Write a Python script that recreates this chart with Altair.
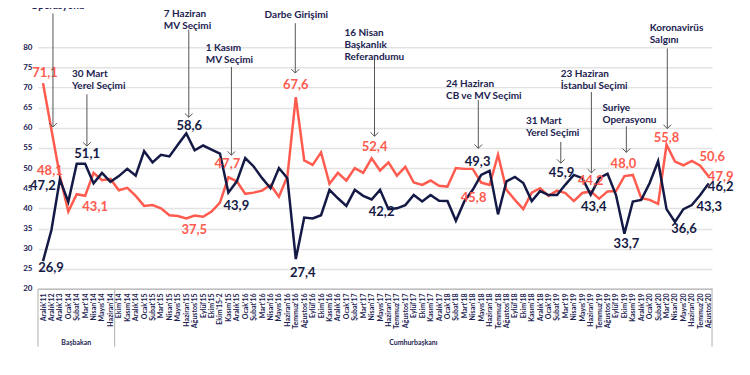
import json
import altair as alt
import pandas as pd

NAVY = "#141a45"
RED = "#ff5b4f"
TXT = "#1b2250"
FONT = "Lato"

months = ["Aralık'11", "Aralık'12", "Aralık'13", "Ocak'14", "Şubat'14", "Mart'14", "Nisan'14",
          "Mayıs'14", "Haziran'14", "Ekim'14", "Kasım'14", "Aralık'14", "Ocak'15", "Şubat'15",
          "Mart'15", "Nisan'15", "Mayıs'15", "Haziran'15", "Ağustos'15", "Eylül'15", "Ekim'15",
          "Ekim'15-2", "Kasım'15", "Aralık'15", "Ocak'16", "Şubat'16", "Mart'16", "Nisan'16",
          "Mayıs'16", "Haziran'16", "Temmuz'16", "Ağustos'16", "Eylül'16", "Ekim'16", "Kasım'16",
          "Aralık'16", "Ocak'17", "Şubat'17", "Mart'17", "Nisan'17", "Mayıs'17", "Haziran'17",
          "Temmuz'17", "Ağustos'17", "Eylül'17", "Ekim'17", "Kasım'17", "Aralık'17", "Ocak'18",
          "Şubat'18", "Mart'18", "Nisan'18", "Mayıs'18", "Haziran'18", "Temmuz'18", "Ağustos'18",
          "Eylül'18", "Ekim'18", "Kasım'18", "Aralık'18", "Ocak'19", "Şubat'19", "Mart'19",
          "Nisan'19", "Mayıs'19", "Haziran'19", "Temmuz'19", "Ağustos'19", "Eylül'19", "Ekim'19",
          "Kasım'19", "Aralık'19", "Ocak'20", "Şubat'20", "Mart'20", "Nisan'20", "Mayıs'20",
          "Haziran'20", "Temmuz'20", "Ağustos'20"]

navy_vals = [26.9, 34.6, 47.2, 41.6, 51.1, 51.1, 46.2, 48.8, 46.6, 48.0,
             49.8, 48.1, 54.2, 51.4, 53.3, 52.9, 55.8, 58.6, 54.4, 55.6,
             54.6, 53.6, 43.9, 46.7, 52.5, 50.4, 47.5, 45.0, 50.0, 47.5,
             27.4, 37.7, 37.5, 38.3, 44.6, 42.5, 40.6, 44.6, 43.1, 42.2,
             44.6, 39.8, 40.0, 40.8, 43.3, 41.7, 43.3, 41.9, 41.8, 36.9,
             41.7, 44.6, 48.3, 49.3, 38.5, 46.7, 47.8, 46.3, 41.8, 44.3,
             43.3, 43.3, 45.9, 48.3, 47.5, 43.4, 47.5, 48.6, 43.3, 33.7,
             41.7, 42.1, 46.3, 51.7, 39.8, 36.6, 39.8, 40.8, 43.3, 46.2]

red_vals = [71.1, 59.5, 48.1, 39.2, 43.5, 43.1, 48.8, 47.0, 47.3, 44.5,
            45.1, 43.1, 40.6, 40.8, 40.0, 38.3, 38.1, 37.5, 38.2, 37.9,
            39.2, 41.4, 47.7, 46.7, 43.6, 43.9, 44.4, 45.8, 42.9, 47.9,
            67.6, 51.9, 50.8, 53.9, 46.1, 48.8, 46.9, 50.0, 48.8, 52.4,
            49.4, 51.4, 48.1, 50.3, 46.4, 45.8, 46.9, 45.6, 45.4, 50.0,
            49.8, 49.8, 46.4, 45.8, 53.3, 44.6, 42.1, 39.8, 43.9, 45.0,
            43.1, 44.4, 43.8, 41.8, 43.8, 44.2, 42.4, 44.2, 44.3, 48.0,
            48.3, 42.5, 42.1, 41.1, 55.8, 51.6, 50.7, 51.8, 50.6, 47.9]

# value labels: (index, dx, dy)
navy_labels = [(0, 8, 7), (2, -17, 7), (5, 2, -10), (17, 3, -7), (22, 8, 13), (30, 7, 14),
               (39, 10, 13), (53, -12, -9), (62, -4, -12), (65, 3, 12), (69, 2, 10),
               (75, 9, 7), (78, 9, 12), (79, 12, 4)]
red_labels = [(0, 2, -10), (2, -10, -5), (5, 10, 11), (17, 8, 12), (22, -1, -13), (30, 0, -12),
              (39, 3, -11), (53, -16, 13), (65, 0, -10), (69, -1, -12), (74, 0, -7),
              (78, 12, -9), (79, 12, 0)]

# event annotations: text, text x (index), text top (value), arrow x, arrow top, arrow bottom
event_text = ["Operasyonu", "30 Mart\nYerel Seçimi", "7 Haziran\nMV Seçimi", "1 Kasım\nMV Seçimi",
              "15 Temmuz\nDarbe Girişimi", "16 Nisan\nBaşkanlık\nReferandumu",
              "24 Haziran\nCB  ve MV Seçimi", "31 Mart\nYerel Seçimi",
              "23 Haziran\nİstanbul Seçimi", "Suriye\nOperasyonu", "Koronavirüs\nSalgını"]
event_tx = [-1.5, 3.44, 14.34, 19.31, 26.3, 35.78, 47.83, 57.31, 61.45, 66.39, 72.0]
event_ty = [91.4, 74.55, 89.4, 81.07, 92.2, 84.9, 72.2, 62.9, 74.7, 66.2, 86.0]
arrow_x = [1.18, 5.21, 17.3, 22.36, 29.94, 39.34, 51.66, 61.45, 65.08, 69.23, 74.09]
arrow_top = [88.4, 68.35, 84.4, 75.1, 86.0, 77.2, 66.9, 56.5, 68.9, 60.4, 79.7]
arrow_bot = [60.2, 55.45, 62.6, 53.2, 73.6, 57.9, 54.9, 51.2, 48.8, 53.9, 59.8]

groups = ["Başbakan", "Cumhurbaşkanı"]
group_edges = [-0.6, 8.5, 79.4]

x_dom = [-0.6, 79.4]
y_dom = [20, 89.7]

df = pd.DataFrame({"i": list(range(len(months))), "navy": navy_vals, "red": red_vals})

label_expr = json.dumps(months, ensure_ascii=False) + "[datum.value]"
xscale = alt.Scale(domain=x_dom, nice=False, zero=False)
yscale = alt.Scale(domain=y_dom, nice=False, zero=False)

x_axis = alt.Axis(values=list(range(len(months))), labelExpr=label_expr, labelAngle=-90,
                  labelFontSize=7, labelFont=FONT, labelFontWeight="bold", labelColor=TXT,
                  ticks=False, grid=False, domainColor="#bdbdbd", domainWidth=1.5,
                  labelPadding=4, labelOverlap=False, labelFlush=False, labelBound=False,
                  title=None)
y_axis = alt.Axis(values=list(range(20, 81, 5)), labelFontSize=8, labelFont=FONT,
                  labelFontWeight="bold", labelColor=TXT, ticks=False, domain=False,
                  gridColor="#e3e3e3", gridWidth=1.5, labelPadding=6, labelOverlap=False,
                  title=None)


def X(field):
    return alt.X(field, scale=xscale, axis=x_axis)


def Y(field):
    return alt.Y(field, scale=yscale, axis=y_axis)


base = alt.Chart(df)
red_line = base.mark_line(color=RED, strokeWidth=2.5).encode(x=X("i:Q"), y=Y("red:Q"))
navy_line = base.mark_line(color=NAVY, strokeWidth=2.5).encode(x=X("i:Q"), y=Y("navy:Q"))

layers = [red_line, navy_line]


def fmt(v):
    return f"{v:.1f}".replace(".", ",")


for vals, color, labs in [(navy_vals, NAVY, navy_labels), (red_vals, RED, red_labels)]:
    for (i, dx, dy) in labs:
        d = pd.DataFrame({"i": [i], "v": [vals[i]], "t": [fmt(vals[i])]})
        layers.append(alt.Chart(d).mark_text(
            color=color, font=FONT, fontSize=13, fontWeight="bold", dx=dx, dy=dy,
            align="center", baseline="middle").encode(x=X("i:Q"), y=Y("v:Q"), text="t:N"))

ev = pd.DataFrame({"t": event_text, "tx": event_tx, "ty": event_ty,
                   "ax": arrow_x, "a1": arrow_top, "a2": arrow_bot})
ev_base = alt.Chart(ev)
layers.append(ev_base.mark_rule(color="#555555", strokeWidth=1).encode(
    x=X("ax:Q"), y=Y("a1:Q"), y2="a2:Q"))
layers.append(ev_base.mark_point(shape="M-1,-1L0,0L1,-1", size=60, filled=False,
                                 color="#555555", strokeWidth=1, opacity=1).encode(
    x=X("ax:Q"), y=Y("a2:Q")))
layers.append(ev_base.mark_text(align="left", baseline="top", lineBreak="\n", lineHeight=12,
                                font=FONT, fontSize=10, fontWeight="bold", color=TXT).encode(
    x=X("tx:Q"), y=Y("ty:Q"), text="t:N"))

# category box below the axis
edges = pd.DataFrame({"e": group_edges})
layers.append(alt.Chart(edges).mark_rule(color="#bdbdbd", strokeWidth=1.2).encode(
    x=X("e:Q"), y=alt.value(281), y2=alt.value(339)))
grp = pd.DataFrame({"g": groups,
                    "c": [(group_edges[0] + group_edges[1]) / 2, (group_edges[1] + group_edges[2]) / 2]})
layers.append(alt.Chart(grp).mark_text(font=FONT, fontSize=7, fontWeight="bold", color=TXT,
                                       baseline="middle").encode(
    x=X("c:Q"), y=alt.value(335), text="g:N"))

chart = alt.layer(*layers).properties(
    width=675, height=281,
    autosize=alt.AutoSizeParams(type="none"),
    padding={"left": 30, "top": 0, "right": 30, "bottom": 62},
    background="white",
).configure_view(stroke=None).configure_axis(labelOverlap=False)

chart.save("out.html", embed_options={"renderer": "svg", "actions": False})
